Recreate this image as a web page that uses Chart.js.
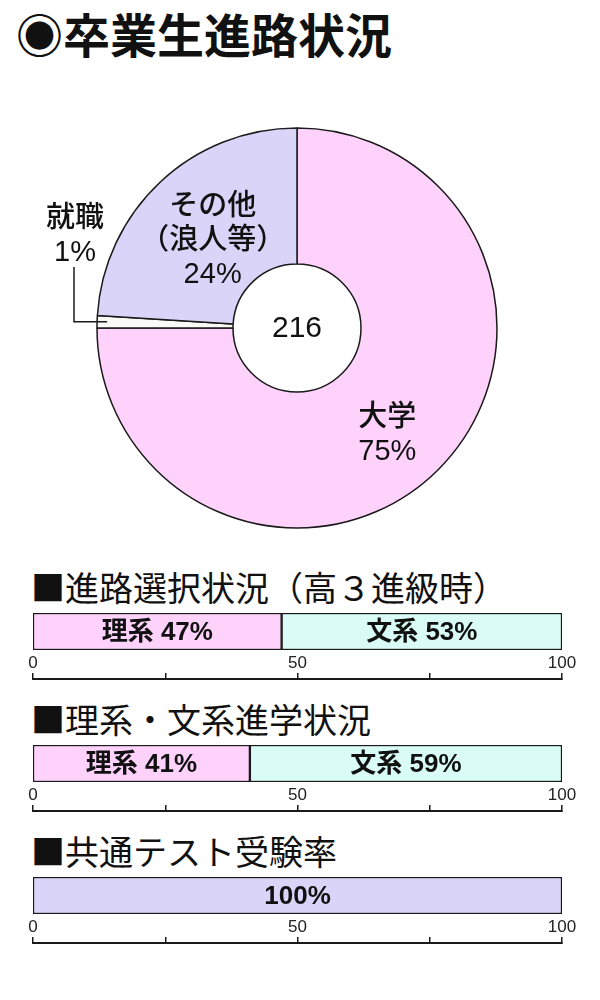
<!DOCTYPE html>
<html lang="ja">
<head>
<meta charset="utf-8">
<script src="https://cdn.jsdelivr.net/npm/chart.js@4"></script>
<style>
html,body{margin:0;padding:0;background:#fff;width:600px;height:1000px;overflow:hidden;}
.t{position:absolute;white-space:nowrap;color:#111;font-family:"Noto Sans CJK JP",sans-serif;line-height:1;}
#title{left:16px;top:9px;font-size:47px;font-weight:700;}
.h{left:31px;font-size:34px;font-weight:400;}
canvas{position:absolute;left:0;}
</style>
</head>
<body>
<div id="title" class="t">◉卒業生進路状況</div>
<div class="t h" style="top:570px">■進路選択状況（高３進級時）</div>
<div class="t h" style="top:702px">■理系・文系進学状況</div>
<div class="t h" style="top:834px">■共通テスト受験率</div>

<canvas id="pie" width="594" height="440" style="top:108px"></canvas>
<canvas id="bar0" width="600" height="77" style="top:608px"></canvas>
<canvas id="bar1" width="600" height="77" style="top:740px"></canvas>
<canvas id="bar2" width="600" height="77" style="top:872px"></canvas>

<script>
// ---- data ----
const pieNames = [['大学'], ['就職'], ['その他', '（浪人等）']];
const pieValues = [75, 1, 24];
const pieTotal = 216;

const courseSeries = ['理系', '文系'];
const choiceValues = [47, 53];   // 進路選択状況（高３進級時）
const entryValues = [41, 59];    // 理系・文系進学状況
const testSeries = [''];
const testValues = [100];        // 共通テスト受験率
const axisTickLabels = [0, 50, 100];

// ---- styles ----
const PINK = '#ffd2fc', LAVENDER = '#d9d4f8', CYAN = '#dafcf6', SLIVER = '#f9f9f6', EDGE = '#1a1a1a';
const LABEL_FONT = '"Liberation Sans", "Noto Sans CJK JP", sans-serif';

const doughnutLabels = {
  id: 'dLabels',
  afterDatasetsDraw(chart, args, opts) {
    const ctx = chart.ctx;
    const meta = chart.getDatasetMeta(0);
    ctx.save();
    ctx.fillStyle = '#111';
    ctx.textAlign = 'center';
    ctx.textBaseline = 'middle';
    ctx.font = '500 29px ' + LABEL_FONT;
    const gap = opts.lineGap;
    let cx0 = 0, cy0 = 0;
    meta.data.forEach((arc, i) => {
      const p = arc.getProps(['x', 'y', 'startAngle', 'endAngle', 'innerRadius', 'outerRadius'], true);
      cx0 = p.x; cy0 = p.y;
      const mid = (p.startAngle + p.endAngle) / 2;
      const lines = pieNames[i].concat([pieValues[i] + '%']);
      if (pieValues[i] < 5) {
        const ox = p.x + Math.cos(mid) * p.outerRadius;
        const oy = p.y + Math.sin(mid) * p.outerRadius;
        const lx = p.x + opts.outside.dx;
        ctx.strokeStyle = EDGE;
        ctx.lineWidth = 1.5;
        ctx.beginPath();
        ctx.moveTo(ox + 10, oy);
        ctx.lineTo(lx, oy);
        ctx.lineTo(lx, p.y + opts.outside.leaderTop);
        ctx.stroke();
        const cy = p.y + opts.outside.dy;
        lines.forEach((s, k) => ctx.fillText(s, lx + 1, cy + (k - (lines.length - 1) / 2) * gap));
      } else {
        const r = (p.innerRadius + p.outerRadius) / 2;
        const off = opts.offsets[i] || [0, 0];
        const cx = p.x + Math.cos(mid) * r + off[0];
        const cy = p.y + Math.sin(mid) * r + off[1];
        lines.forEach((s, k) => ctx.fillText(s, cx, cy + (k - (lines.length - 1) / 2) * gap));
      }
    });
    ctx.font = '30px ' + LABEL_FONT;
    ctx.fillText(String(pieTotal), cx0, cy0 + 1);
    ctx.restore();
  }
};

new Chart(document.getElementById('pie'), {
  type: 'doughnut',
  data: {
    labels: pieNames.map(n => n[0]),
    datasets: [{
      data: pieValues,
      backgroundColor: [PINK, SLIVER, LAVENDER],
      borderColor: EDGE,
      borderWidth: 1.5
    }]
  },
  options: {
    responsive: false,
    animation: false,
    radius: 200,
    cutout: '32%',
    layout: { padding: 0 },
    plugins: {
      legend: { display: false },
      tooltip: { enabled: false },
      dLabels: {
        lineGap: 34,
        offsets: [[-3, 14], null, [6, 9]],
        outside: { dx: -223, dy: -92, leaderTop: -61 }
      }
    }
  },
  plugins: [doughnutLabels]
});

const barLabels = {
  id: 'barLabels',
  afterDatasetsDraw(chart) {
    const ctx = chart.ctx;
    ctx.save();
    ctx.font = 'bold 26px ' + LABEL_FONT;
    ctx.fillStyle = '#111';
    ctx.textAlign = 'center';
    ctx.textBaseline = 'middle';
    chart.data.datasets.forEach((ds, i) => {
      const el = chart.getDatasetMeta(i).data[0];
      const text = (ds.label ? ds.label + ' ' : '') + ds.data[0] + '%';
      ctx.fillText(text, (el.x + el.base) / 2, el.y + 1);
    });
    ctx.restore();
  }
};

function makeBar(id, names, values, colors) {
  return new Chart(document.getElementById(id), {
    type: 'bar',
    data: {
      labels: [''],
      datasets: names.map((n, i) => ({
        label: n,
        data: [values[i]],
        backgroundColor: colors[i],
        borderColor: EDGE,
        borderWidth: 1.5,
        borderSkipped: false,
        barPercentage: 1,
        categoryPercentage: 1
      }))
    },
    options: {
      indexAxis: 'y',
      responsive: false,
      animation: false,
      layout: { padding: { top: 5, left: 33, right: 38, bottom: 0 } },
      plugins: { legend: { display: false }, tooltip: { enabled: false } },
      scales: {
        y: { stacked: true, display: false },
        x: {
          stacked: true, min: 0, max: 100, position: 'bottom', weight: 0,
          grid: { display: false, drawTicks: false },
          border: { display: false },
          ticks: {
            stepSize: 25, autoSkip: false, maxRotation: 0, padding: 3,
            color: '#222', font: { family: 'Liberation Sans', size: 17 },
            callback: v => axisTickLabels.includes(v) ? String(v) : ''
          },
          afterFit: s => { s.height = 29; }
        },
        x2: {
          type: 'linear', axis: 'x', position: 'bottom', weight: 1, min: 0, max: 100,
          grid: { display: true, drawOnChartArea: false, drawTicks: true, tickLength: -6, color: EDGE, lineWidth: 1.5 },
          border: { display: true, color: EDGE, width: 2 },
          ticks: { display: false, stepSize: 25 },
          afterFit: s => { s.height = 6; }
        }
      }
    },
    plugins: [barLabels]
  });
}

makeBar('bar0', courseSeries, choiceValues, [PINK, CYAN]);
makeBar('bar1', courseSeries, entryValues, [PINK, CYAN]);
makeBar('bar2', testSeries, testValues, [LAVENDER]);
</script>
</body>
</html>
